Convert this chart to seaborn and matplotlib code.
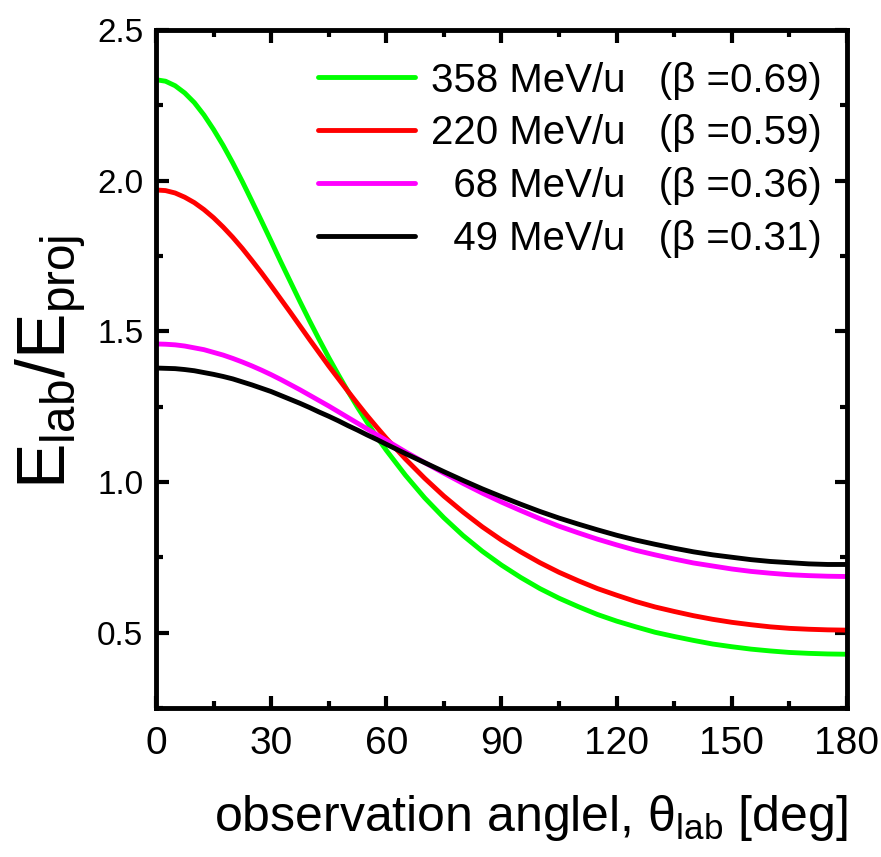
import numpy as np
import pandas as pd
from matplotlib import pyplot as plt
from matplotlib.ticker import MultipleLocator, FormatStrFormatter
import seaborn as sns

# observation angle [deg] and E_lab/E_proj
theta = [0, 2.5, 5, 7.5, 10, 12.5, 15, 17.5, 20, 22.5, 25, 27.5, 30, 32.5, 35, 37.5, 40, 42.5,
         45, 47.5, 50, 52.5, 55, 57.5, 60, 65, 70, 75, 80, 85, 90, 95, 100, 105, 110, 115,
         120, 125, 130, 135, 140, 145, 150, 155, 160, 165, 170, 175, 180]

e358 = [2.335, 2.330, 2.315, 2.291, 2.259, 2.218, 2.170, 2.117, 2.059, 1.997, 1.932, 1.866,
        1.799, 1.731, 1.665, 1.599, 1.535, 1.473, 1.413, 1.356, 1.301, 1.248, 1.198, 1.150,
        1.105, 1.022, 0.947, 0.881, 0.822, 0.770, 0.724, 0.683, 0.646, 0.614, 0.586, 0.560,
        0.538, 0.519, 0.501, 0.487, 0.474, 0.462, 0.453, 0.445, 0.439, 0.434, 0.431, 0.429, 0.428]
e220 = [1.969, 1.967, 1.959, 1.945, 1.927, 1.904, 1.877, 1.846, 1.812, 1.775, 1.735, 1.694,
        1.651, 1.607, 1.563, 1.518, 1.473, 1.429, 1.385, 1.343, 1.301, 1.260, 1.220, 1.182,
        1.145, 1.076, 1.012, 0.953, 0.900, 0.851, 0.807, 0.768, 0.732, 0.700, 0.672, 0.646,
        0.624, 0.603, 0.585, 0.570, 0.556, 0.544, 0.534, 0.526, 0.519, 0.514, 0.511, 0.509, 0.508]
e68 = [1.458, 1.457, 1.455, 1.451, 1.445, 1.439, 1.430, 1.421, 1.410, 1.398, 1.385, 1.371,
       1.356, 1.340, 1.323, 1.306, 1.288, 1.270, 1.252, 1.233, 1.214, 1.195, 1.176, 1.157,
       1.138, 1.100, 1.064, 1.029, 0.995, 0.963, 0.933, 0.905, 0.878, 0.853, 0.831, 0.810,
       0.791, 0.773, 0.758, 0.744, 0.731, 0.721, 0.711, 0.703, 0.697, 0.692, 0.689, 0.687, 0.686]
e49 = [1.378, 1.377, 1.376, 1.373, 1.369, 1.363, 1.357, 1.350, 1.342, 1.332, 1.322, 1.311,
       1.300, 1.287, 1.274, 1.261, 1.247, 1.232, 1.218, 1.203, 1.187, 1.172, 1.156, 1.141,
       1.125, 1.094, 1.064, 1.034, 1.005, 0.977, 0.951, 0.926, 0.902, 0.880, 0.860, 0.841,
       0.823, 0.807, 0.793, 0.780, 0.768, 0.758, 0.750, 0.742, 0.736, 0.732, 0.728, 0.726, 0.726]

series = ["358 MeV/u   (\u03b2 =0.69)", "220 MeV/u   (\u03b2 =0.59)",
          "\u200768 MeV/u   (\u03b2 =0.36)", "\u200749 MeV/u   (\u03b2 =0.31)"]
colors = ["#00ff00", "#ff0000", "#ff00ff", "#000000"]

df = pd.concat([pd.DataFrame({"theta": theta, "ratio": vals, "beam": name})
                for name, vals in zip(series, [e358, e220, e68, e49])])

sns.set_style("ticks")
plt.rcParams["font.family"] = ["Liberation Sans", "DejaVu Sans"]
plt.rcParams["mathtext.fontset"] = "custom"
plt.rcParams["mathtext.rm"] = "Liberation Sans"
plt.rcParams["mathtext.default"] = "regular"
for key in ["text.color", "axes.labelcolor", "xtick.color", "ytick.color", "axes.edgecolor"]:
    plt.rcParams[key] = "black"

fig = plt.figure(figsize=(8.81, 8.57), dpi=100)
ax = fig.add_axes([0.177, 0.174, 0.7844, 0.791])

sns.lineplot(data=df, x="theta", y="ratio", hue="beam", hue_order=series,
             palette=colors, linewidth=3.5, estimator=None, legend=False, ax=ax)

ax.set_xlim(0, 180)
ax.set_ylim(0.25, 2.5)
ax.xaxis.set_major_locator(MultipleLocator(30))
ax.xaxis.set_minor_locator(MultipleLocator(15))
ax.yaxis.set_major_locator(MultipleLocator(0.5))
ax.yaxis.set_minor_locator(MultipleLocator(0.25))
ax.yaxis.set_major_formatter(FormatStrFormatter("%.1f"))

for s in ax.spines.values():
    s.set_linewidth(3.5)
    s.set_visible(True)
ax.tick_params(which="both", direction="in", top=True, right=True, width=3)
ax.tick_params(which="major", length=9)
ax.tick_params(which="minor", length=5)
ax.tick_params(axis="x", pad=13, labelsize=28)
ax.tick_params(axis="y", pad=9, labelsize=24)

ax.set_xlabel("observation anglel, \u03b8$_{lab}$ [deg]", fontsize=36)
ax.set_ylabel("E$_{lab}$/E$_{proj}$", fontsize=49)
ax.xaxis.set_label_coords(0.543, -0.125)
ax.yaxis.set_label_coords(-0.098, 0.51)

leg = ax.legend(ax.lines, series, loc="upper right", bbox_to_anchor=(1.007, 0.998),
                frameon=False, fontsize=29, handlelength=2.4, handletextpad=0.4,
                labelspacing=0.37, borderaxespad=0.35)
for line in leg.get_lines():
    line.set_linewidth(3.5)

fig.savefig("out.png", dpi=100)
